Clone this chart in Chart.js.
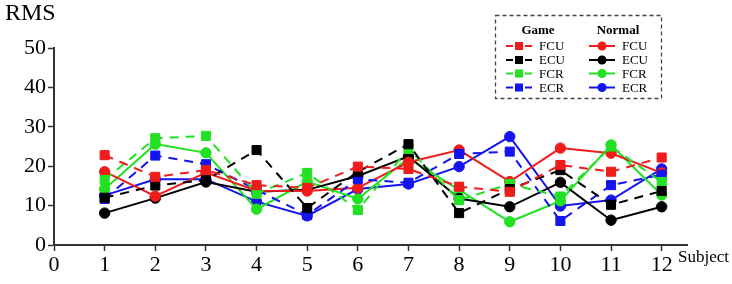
<!DOCTYPE html>
<html>
<head>
<meta charset="utf-8">
<script src="https://cdn.jsdelivr.net/npm/chart.js@4.4.1/dist/chart.umd.min.js"></script>
<style>
  html, body { margin: 0; padding: 0; background: #fff; }
  #wrap { width: 732px; height: 284px; }
</style>
</head>
<body>
<div id="wrap"><canvas id="rmsChart" width="732" height="284"></canvas></div>
<script>
const subjects = [1, 2, 3, 4, 5, 6, 7, 8, 9, 10, 11, 12];
const xTicks = [0, 1, 2, 3, 4, 5, 6, 7, 8, 9, 10, 11, 12];
const muscles = ['FCU', 'ECU', 'FCR', 'ECR'];

// Game condition (dashed lines, squares)
const gameFCU = [22.8, 17.3, 19.0, 15.2, 14.5, 19.9, 19.3, 14.8, 13.5, 20.3, 18.6, 22.2];
const gameECU = [12.0, 15.1, 16.5, 24.1, 9.4, 18.6, 25.6, 8.1, 14.2, 19.0, 10.2, 13.7];
const gameFCR = [16.5, 27.1, 27.7, 13.0, 18.3, 8.9, 24.4, 11.4, 15.5, 12.3, 25.0, 16.0];
const gameECR = [11.7, 22.7, 20.5, 14.0, 7.6, 16.7, 15.8, 23.1, 23.7, 6.1, 15.2, 17.8];

// Normal condition (solid lines, circles)
const normFCU = [18.6, 12.4, 18.4, 13.8, 13.7, 14.5, 21.0, 24.1, 16.1, 24.6, 23.3, 18.3];
const normECU = [8.1, 11.9, 16.0, 13.5, 14.0, 17.5, 22.5, 11.8, 9.7, 15.9, 6.3, 9.7];
const normFCR = [14.2, 25.6, 23.4, 9.1, 16.1, 11.7, 22.0, 14.0, 5.9, 11.2, 25.4, 12.7];
const normECR = [12.6, 16.7, 16.7, 11.0, 7.4, 14.2, 15.5, 19.9, 27.5, 9.9, 11.4, 19.3];

const colors = { FCU: '#f01c1c', ECU: '#000000', FCR: '#22e022', ECR: '#1414ee' };
const serif = '"Liberation Serif", "DejaVu Serif", serif';

const toPoints = (vals) => vals.map((v, i) => ({ x: subjects[i], y: v }));

const makeSet = (group, name, vals) => ({
  label: group + ' ' + name,
  group: group,
  name: name,
  data: toPoints(vals),
  borderColor: colors[name],
  backgroundColor: colors[name],
  borderWidth: 2,
  borderDash: group === 'Game' ? [9, 7] : [],
  pointStyle: group === 'Game' ? 'rect' : 'circle',
  pointRadius: group === 'Game' ? 6.4 : 5.2,
  pointBorderWidth: 1,
  tension: 0,
  fill: false,
});

const datasets = [
  makeSet('Game', 'FCU', gameFCU),
  makeSet('Game', 'ECU', gameECU),
  makeSet('Game', 'FCR', gameFCR),
  makeSet('Game', 'ECR', gameECR),
  makeSet('Normal', 'FCU', normFCU),
  makeSet('Normal', 'ECU', normECU),
  makeSet('Normal', 'FCR', normFCR),
  makeSet('Normal', 'ECR', normECR),
];

// legend box + axis titles drawn by hand
const extrasPlugin = {
  id: 'extras',
  afterDraw(chart) {
    const ctx = chart.ctx;
    ctx.save();

    // axis titles
    ctx.fillStyle = '#000';
    ctx.font = '24px ' + serif;
    ctx.textAlign = 'left';
    ctx.textBaseline = 'middle';
    ctx.fillText('RMS', 5, 14);
    ctx.font = '17px ' + serif;
    ctx.fillText('Subject', 678, 258);

    // legend frame
    ctx.strokeStyle = '#444';
    ctx.lineWidth = 1.3;
    ctx.setLineDash([4, 3]);
    ctx.strokeRect(495.5, 15.5, 166, 83);
    ctx.setLineDash([]);

    ctx.font = 'bold 13px ' + serif;
    ctx.textAlign = 'center';
    ctx.fillText('Game', 538, 31);
    ctx.fillText('Normal', 618, 31);

    const rowY = [46, 60, 73.5, 87.5];
    const cols = { Game: { x0: 506, x1: 532, mx: 519, tx: 539 }, Normal: { x0: 589, x1: 615, mx: 602, tx: 622 } };
    chart.data.datasets.forEach((ds) => {
      const c = cols[ds.group];
      const y = rowY[muscles.indexOf(ds.name)];
      ctx.strokeStyle = ds.borderColor;
      ctx.fillStyle = ds.backgroundColor;
      ctx.lineWidth = 2;
      ctx.setLineDash([]);
      if (ds.group === 'Game') {
        ctx.beginPath(); ctx.moveTo(c.x0, y); ctx.lineTo(c.x0 + 7, y); ctx.stroke();
        ctx.beginPath(); ctx.moveTo(c.x1 - 7, y); ctx.lineTo(c.x1, y); ctx.stroke();
        ctx.fillRect(c.mx - 4, y - 4, 8, 8);
      } else {
        ctx.beginPath(); ctx.moveTo(c.x0, y); ctx.lineTo(c.x1, y); ctx.stroke();
        ctx.beginPath(); ctx.arc(c.mx, y, 4.5, 0, Math.PI * 2); ctx.fill();
      }
      ctx.fillStyle = '#000';
      ctx.font = '13px ' + serif;
      ctx.textAlign = 'left';
      ctx.fillText(ds.name, c.tx, y + 1);
    });

    ctx.restore();
  },
};

new Chart(document.getElementById('rmsChart'), {
  type: 'line',
  data: { datasets: datasets },
  plugins: [extrasPlugin],
  options: {
    responsive: false,
    animation: false,
    layout: { padding: { top: 48, right: 45, left: 0, bottom: 0 } },
    plugins: { legend: { display: false }, tooltip: { enabled: false } },
    scales: {
      x: {
        type: 'linear',
        min: 0,
        max: 12.5,
        afterBuildTicks: (scale) => {
          scale.ticks = xTicks.map((v) => ({ value: v }));
        },
        afterFit: (scale) => { scale.height = 39; },
        ticks: { autoSkip: false, color: '#000', padding: 1, maxRotation: 0, font: { family: serif, size: 22 } },
        grid: { drawOnChartArea: false, drawTicks: true, tickLength: 6, tickColor: '#333', tickWidth: 1.5 },
        border: { color: '#333', width: 2 },
      },
      y: {
        min: 0,
        max: 50,
        afterFit: (scale) => { scale.width = 54; },
        ticks: { stepSize: 10, color: '#000', padding: 2, font: { family: serif, size: 22 } },
        grid: { drawOnChartArea: false, drawTicks: true, tickLength: 6, tickColor: '#333', tickWidth: 1.5 },
        border: { color: '#333', width: 2 },
      },
    },
  },
});
</script>
</body>
</html>
